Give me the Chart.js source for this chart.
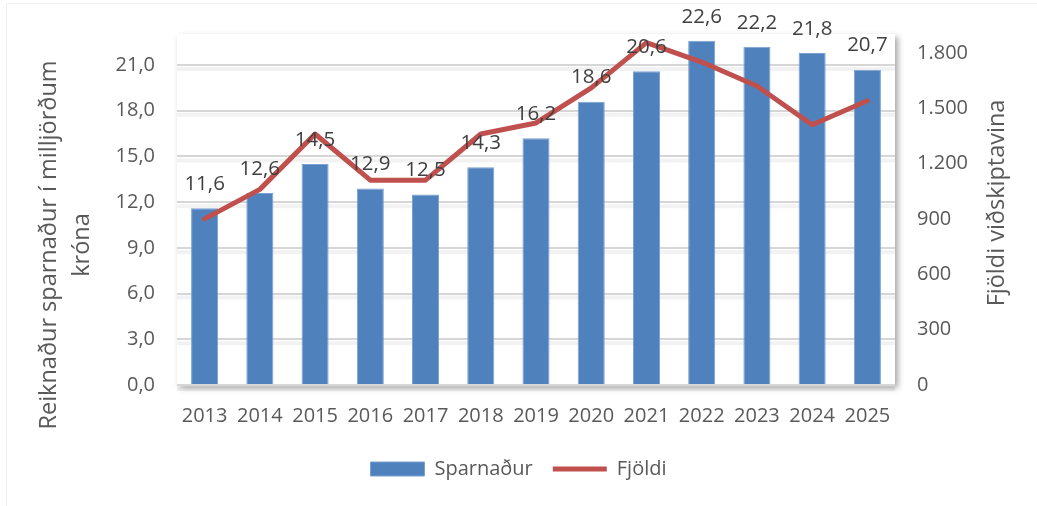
<!DOCTYPE html>
<html>
<head>
<meta charset="utf-8">
<script src="https://cdn.jsdelivr.net/npm/chart.js@4"></script>
<style>
  html, body { margin: 0; padding: 0; background: #fff; }
  #wrap { width: 1037px; height: 506px; }
</style>
</head>
<body>
<div id="wrap"><canvas id="chart"></canvas></div>
<script>
const years = ['2013', '2014', '2015', '2016', '2017', '2018', '2019', '2020', '2021', '2022', '2023', '2024', '2025']
const sparnadur = [11.6, 12.6, 14.5, 12.9, 12.5, 14.3, 16.2, 18.6, 20.6, 22.6, 22.2, 21.8, 20.7]
const fjoldi = [900, 1060, 1360, 1110, 1110, 1360, 1420, 1610, 1855, 1750, 1620, 1410, 1540]
const leftTitle = ['Reiknaður sparnaður í milljörðum', 'króna']
const rightTitle = 'Fjöldi viðskiptavina'

const FONT = '"Open Sans", "Noto Sans", sans-serif'

function fmtComma (v) {
  return v.toFixed(1).replace('.', ',')
}
function fmtThousands (v) {
  return String(Math.round(v)).replace(/\B(?=(\d{3})+(?!\d))/g, '.')
}

// soft shadow behind the plot area + faint outer frame
const plotShadow = {
  id: 'plotShadow',
  beforeDraw (chart) {
    const { ctx, chartArea: a } = chart
    ctx.save()
    ctx.strokeStyle = '#efefef'
    ctx.lineWidth = 1
    ctx.beginPath()
    ctx.moveTo(6.5, 506)
    ctx.lineTo(6.5, 3.5)
    ctx.lineTo(1037, 3.5)
    ctx.stroke()
    ctx.shadowColor = 'rgba(0,0,0,0.35)'
    ctx.shadowBlur = 6
    ctx.shadowOffsetX = 3
    ctx.shadowOffsetY = 3
    ctx.fillStyle = '#fff'
    ctx.fillRect(a.left, a.top, a.right - a.left, a.bottom - a.top)
    ctx.restore()
  },
  beforeDatasetsDraw (chart) {
    // gridline shadows
    const { ctx, chartArea: a } = chart
    const y = chart.scales.y
    ctx.save()
    ctx.strokeStyle = 'rgba(0,0,0,0.05)'
    ctx.lineWidth = 4
    y.ticks.forEach((t) => {
      const py = y.getPixelForValue(t.value)
      ctx.beginPath()
      ctx.moveTo(a.left, py + 4)
      ctx.lineTo(a.right, py + 4)
      ctx.stroke()
    })
    ctx.restore()
  }
}

const barLabels = {
  id: 'barLabels',
  afterDatasetsDraw (chart) {
    const meta = chart.getDatasetMeta(0)
    const ctx = chart.ctx
    ctx.save()
    ctx.font = '20.5px ' + FONT
    ctx.fillStyle = '#404040'
    ctx.textAlign = 'center'
    ctx.textBaseline = 'middle'
    meta.data.forEach((bar, i) => {
      ctx.fillText(fmtComma(sparnadur[i]), bar.x, bar.y - 24)
    })
    ctx.restore()
  }
}

const axisTitles = {
  id: 'axisTitles',
  afterDraw (chart) {
    const ctx = chart.ctx
    ctx.save()
    ctx.font = '23.5px ' + FONT
    ctx.fillStyle = '#595959'
    ctx.textAlign = 'center'
    ctx.textBaseline = 'middle'
    // left title, two lines, reading bottom to top
    ctx.translate(49, 245)
    ctx.rotate(-Math.PI / 2)
    ctx.fillText(leftTitle[0], 0, 0)
    ctx.fillText(leftTitle[1], 0, 33)
    ctx.restore()
    ctx.save()
    ctx.font = '23.5px ' + FONT
    ctx.fillStyle = '#595959'
    ctx.textAlign = 'center'
    ctx.textBaseline = 'middle'
    ctx.translate(997, 203)
    ctx.rotate(-Math.PI / 2)
    ctx.fillText(rightTitle, 0, 0)
    ctx.restore()
  }
}

const chart = new Chart(document.getElementById('chart').getContext('2d'), {
  type: 'bar',
  data: {
    labels: years,
    datasets: [
      {
        label: 'Sparnaður',
        data: sparnadur,
        yAxisID: 'y',
        backgroundColor: '#4f81bd',
        borderColor: '#7aa0d2',
        borderWidth: 1,
        barPercentage: 0.98,
        categoryPercentage: 0.5,
        pointStyle: 'rect',
        order: 1
      },
      {
        type: 'line',
        label: 'Fjöldi',
        data: fjoldi,
        yAxisID: 'y1',
        borderColor: '#c0504d',
        backgroundColor: '#c0504d',
        borderWidth: 5,
        borderCapStyle: 'round',
        borderJoinStyle: 'round',
        tension: 0,
        pointRadius: 0,
        pointStyle: 'line',
        order: 0
      }
    ]
  },
  options: {
    responsive: true,
    maintainAspectRatio: false,
    animation: false,
    layout: { padding: { top: 33, bottom: 17, left: 0, right: 0 } },
    scales: {
      x: {
        grid: { display: false },
        border: { display: false },
        ticks: {
          padding: 11,
          color: '#595959',
          font: { size: 20, family: FONT },
          maxRotation: 0
        },
        afterFit: (s) => { s.height = 54 }
      },
      y: {
        position: 'left',
        min: 0,
        max: 23.04,
        grid: { color: '#d6d6d6', lineWidth: 2, drawTicks: false },
        border: { display: false },
        ticks: {
          stepSize: 3,
          includeBounds: false,
          padding: 22,
          color: '#595959',
          font: { size: 20, family: FONT },
          callback: (v) => fmtComma(v)
        },
        afterFit: (s) => { s.width = 177 }
      },
      y1: {
        position: 'right',
        min: 0,
        max: 1902,
        grid: { display: false, drawTicks: false },
        border: { display: false },
        ticks: {
          stepSize: 300,
          includeBounds: false,
          padding: 22,
          color: '#595959',
          font: { size: 20, family: FONT },
          callback: (v) => fmtThousands(v)
        },
        afterFit: (s) => { s.width = 142 }
      }
    },
    plugins: {
      legend: {
        display: true,
        position: 'bottom',
        labels: {
          usePointStyle: true,
          pointStyleWidth: 54,
          boxHeight: 14,
          padding: 20,
          color: '#595959',
          font: { size: 20, family: FONT },
          sort: (a, b) => a.datasetIndex - b.datasetIndex
        }
      },
      tooltip: { enabled: false }
    }
  },
  plugins: [plotShadow, barLabels, axisTitles]
})
</script>
</body>
</html>
